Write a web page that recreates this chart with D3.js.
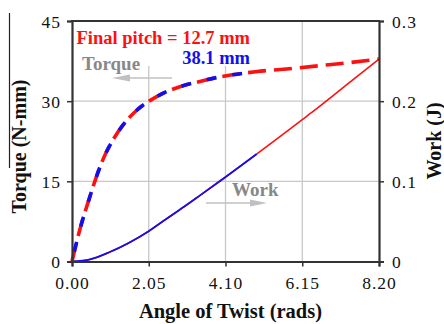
<!DOCTYPE html>
<html><head><meta charset="utf-8">
<script src="https://cdn.jsdelivr.net/npm/d3@7"></script>
<style>
html,body{margin:0;padding:0;background:#fff;}
svg{display:block;font-family:"Liberation Serif","Times New Roman",serif;}
</style></head>
<body><svg id="c" width="444" height="324"></svg>
<script>
// ---- data ----
const xTicks = [0, 2.05, 4.10, 6.15, 8.20];
const yLeftTicks = [0, 15, 30, 45];
const yRightTicks = [0, 0.1, 0.2, 0.3];

// Torque (N-mm) vs angle of twist (rads)
const torqueAngle127 = [0, 0.21, 0.44, 0.61, 0.84, 1.10, 1.37, 1.73, 2.08, 2.44, 2.88, 3.42, 4.0, 4.9, 6.0, 6.7, 7.4, 8.2];
const torque127      = [0, 6.0, 11.3, 15.0, 19.3, 22.8, 25.6, 28.3, 30.1, 31.5, 32.7, 33.7, 34.6, 35.5, 36.2, 36.7, 37.2, 37.9];
const torqueAngle381 = [0, 0.21, 0.44, 0.61, 0.84, 1.10, 1.37, 1.73, 2.08, 2.44, 2.88, 3.42, 4.0, 4.93];
const torque381      = [0, 6.0, 11.3, 15.0, 19.3, 22.8, 25.6, 28.3, 30.1, 31.5, 32.7, 33.7, 34.6, 35.5];

// Work (J) vs angle of twist (rads)
const workAngle127 = [0, 0.48, 1.01, 1.5, 2.05, 2.5, 3.0, 3.42, 4.0, 4.5, 4.93, 5.5, 6.15, 6.49, 7.0, 7.5, 8.2];
const work127      = [0, 0.0026, 0.0118, 0.0228, 0.0378, 0.0525, 0.0685, 0.0825, 0.102, 0.119, 0.134, 0.154, 0.177, 0.189, 0.208, 0.2265, 0.2525];
const workAngle381 = [0, 0.48, 1.01, 1.5, 2.05, 2.5, 3.0, 3.42, 4.0, 4.5, 4.93];
const work381      = [0, 0.0026, 0.0118, 0.0228, 0.0378, 0.0525, 0.0685, 0.0825, 0.102, 0.119, 0.134];

const zip = (a, b) => a.map((v, i) => [v, b[i]]);

const svg = d3.select("#c");
const L = 72, R = 379, T = 21, B = 261.5;
const x = d3.scaleLinear().domain([0, 8.2]).range([L, R]);
const yL = d3.scaleLinear().domain([0, 45]).range([B, T]);
const yR = d3.scaleLinear().domain([0, 0.3]).range([B, T]);

// grid
const grid = svg.append("g").attr("stroke", "#c8c8c8").attr("stroke-width", 1.3);
grid.selectAll("line.v").data(xTicks.slice(1, -1)).enter().append("line")
  .attr("x1", d => x(d)).attr("x2", d => x(d)).attr("y1", T).attr("y2", B);
grid.selectAll("line.h").data(yLeftTicks.slice(1, -1)).enter().append("line")
  .attr("x1", L).attr("x2", R).attr("y1", d => yL(d)).attr("y2", d => yL(d));

// annotation box (white, covers grid)
svg.append("rect").attr("x", L + 1).attr("y", T + 1).attr("width", 183).attr("height", 44).attr("fill", "#fff");

// lines
const lineT = d3.line().x(d => x(d[0])).y(d => yL(d[1])).curve(d3.curveMonotoneX);
const lineW = d3.line().x(d => x(d[0])).y(d => yR(d[1])).curve(d3.curveMonotoneX);

svg.append("path").datum(zip(workAngle127, work127)).attr("d", lineW)
  .attr("fill", "none").attr("stroke", "#ff1010").attr("stroke-width", 1.6);
svg.append("path").datum(zip(workAngle381, work381)).attr("d", lineW)
  .attr("fill", "none").attr("stroke", "#1010ee").attr("stroke-width", 1.8);

svg.append("path").datum(zip(torqueAngle127, torque127)).attr("d", lineT)
  .attr("fill", "none").attr("stroke", "#ff1010").attr("stroke-width", 3.6)
  .attr("stroke-dasharray", "18,8");
svg.append("path").datum(zip(torqueAngle381, torque381)).attr("d", lineT)
  .attr("fill", "none").attr("stroke", "#1010ee").attr("stroke-width", 3.6)
  .attr("stroke-dasharray", "10,16").attr("stroke-dashoffset", 16);

// axes
const axCol = "#333";
const fmt2 = d3.format(".2f");
const gx = svg.append("g").attr("transform", `translate(0,${B})`)
  .call(d3.axisBottom(x).tickValues(xTicks).tickFormat(fmt2).tickSize(5).tickPadding(10));
const gl = svg.append("g").attr("transform", `translate(${L},0)`)
  .call(d3.axisLeft(yL).tickValues(yLeftTicks).tickSize(5).tickPadding(6));
const gr = svg.append("g").attr("transform", `translate(${R},0)`)
  .call(d3.axisRight(yR).tickValues(yRightTicks).tickFormat(d => d === 0 ? "0" : d3.format(".1f")(d)).tickSize(5).tickPadding(8));
[gx, gl, gr].forEach(g => {
  g.select(".domain").attr("stroke", axCol).attr("stroke-width", 2.2);
  g.selectAll(".tick line").attr("stroke", axCol).attr("stroke-width", 1.5);
  g.selectAll(".tick text").attr("fill", "#111").attr("font-size", 17.5)
    .attr("font-family", "Liberation Serif").style("letter-spacing", "1px");
});
gl.selectAll(".tick text").attr("dy", "0.36em");
gr.selectAll(".tick text").attr("dy", "0.36em");
// top frame
svg.append("line").attr("x1", L - 1).attr("x2", R + 1).attr("y1", T).attr("y2", T)
  .attr("stroke", axCol).attr("stroke-width", 2.2);

// axis titles
svg.append("text").attr("x", 230.5).attr("y", 318).attr("text-anchor", "middle")
  .attr("font-weight", "bold").attr("font-size", 20.5).attr("fill", "#111")
  .text("Angle of Twist (rads)");
svg.append("text").attr("transform", "translate(26,146.5) rotate(-90)").attr("text-anchor", "middle")
  .attr("font-weight", "bold").attr("font-size", 20).attr("fill", "#111")
  .text("Torque (N-mm)");
svg.append("line").attr("x1", 9.5).attr("x2", 9.5).attr("y1", 13).attr("y2", 168)
  .attr("stroke", "#222").attr("stroke-width", 1.2);
svg.append("text").attr("transform", "translate(441,141) rotate(-90)").attr("text-anchor", "middle")
  .attr("font-weight", "bold").attr("font-size", 20).attr("fill", "#111")
  .text("Work (J)");

// annotations
svg.append("text").attr("x", 250).attr("y", 43.8).attr("text-anchor", "end")
  .attr("font-weight", "bold").attr("font-size", 18.5).attr("fill", "#ff1010")
  .text("Final pitch = 12.7 mm");
svg.append("text").attr("x", 250).attr("y", 64.4).attr("text-anchor", "end")
  .attr("font-weight", "bold").attr("font-size", 18.5).attr("fill", "#1010ee")
  .text("38.1 mm");
svg.append("text").attr("x", 82).attr("y", 70)
  .attr("font-weight", "bold").attr("font-size", 19).attr("fill", "#888")
  .text("Torque");
svg.append("text").attr("x", 232).attr("y", 196)
  .attr("font-weight", "bold").attr("font-size", 19).attr("fill", "#888")
  .text("Work");

// arrows
const arrowCol = "#c0c0c0";
svg.append("line").attr("x1", 172).attr("x2", 128).attr("y1", 78).attr("y2", 78)
  .attr("stroke", arrowCol).attr("stroke-width", 1.6);
svg.append("path").attr("d", "M112,78 L130,74.5 L130,81.5 Z").attr("fill", arrowCol);
svg.append("line").attr("x1", 206).attr("x2", 252).attr("y1", 203).attr("y2", 203)
  .attr("stroke", arrowCol).attr("stroke-width", 1.6);
svg.append("path").attr("d", "M267,203 L250,199.5 L250,206.5 Z").attr("fill", arrowCol);
</script></body></html>
